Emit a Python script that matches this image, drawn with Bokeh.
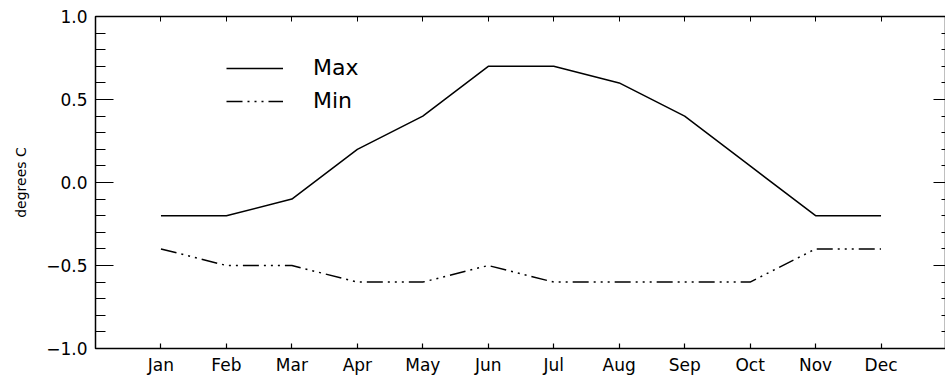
from bokeh.plotting import figure
from bokeh.models import (LinearAxis, FixedTicker, Range1d,
                          Legend, LegendItem, ColumnDataSource)
from bokeh.embed import file_html
from bokeh.resources import INLINE

months = ["Jan", "Feb", "Mar", "Apr", "May", "Jun",
          "Jul", "Aug", "Sep", "Oct", "Nov", "Dec"]
month_pos = list(range(1, 13))
max_vals = [-0.2, -0.2, -0.1, 0.2, 0.4, 0.7, 0.7, 0.6, 0.4, 0.1, -0.2, -0.2]
min_vals = [-0.4, -0.5, -0.5, -0.6, -0.6, -0.5, -0.6, -0.6, -0.6, -0.6, -0.4, -0.4]
y_ticks = [-1.0, -0.5, 0.0, 0.5, 1.0]
y_tick_labels = ["\u22121.0", "\u22120.5", "0.0", "0.5", "1.0"]
y_minor = [round(-1.0 + 0.1 * i, 1) for i in range(21)]

FONT = "DejaVu Sans"

src = ColumnDataSource(dict(x=month_pos, mx=max_vals, mn=min_vals))

p = figure(frame_width=851, frame_height=332, output_backend="svg",
           toolbar_location=None, x_range=Range1d(0, 13), y_range=Range1d(-1, 1),
           min_border_left=95, min_border_top=16, min_border_bottom=29,
           min_border_right=0, y_axis_label="degrees C")
p.background_fill_color = "white"
p.border_fill_color = "white"
p.outline_line_color = "black"
p.outline_line_width = 1.5
p.xgrid.grid_line_color = None
p.ygrid.grid_line_color = None

r1 = p.line("x", "mx", source=src, line_color="black", line_width=1.5)
r2 = p.line("x", "mn", source=src, line_color="black", line_width=1.5,
            line_dash="16 5 2 5 2 5 2 5")

# bottom axis
xa = p.xaxis[0]
xa.ticker = FixedTicker(ticks=month_pos)
xa.major_label_overrides = {i: m for i, m in zip(month_pos, months)}
xa.major_tick_in = 5
xa.major_tick_out = 0
xa.minor_tick_line_color = None
xa.axis_line_color = None
xa.major_tick_line_color = "black"
xa.major_tick_line_width = 1.2
xa.major_label_text_font = FONT
xa.major_label_text_font_size = "17px"
xa.major_label_text_color = "black"
xa.major_label_standoff = 6

# left axis
ya = p.yaxis[0]
ya.ticker = FixedTicker(ticks=y_ticks, minor_ticks=y_minor)
ya.major_label_overrides = {t: l for t, l in zip(y_ticks, y_tick_labels)}
ya.major_tick_in = 18
ya.major_tick_out = 0
ya.minor_tick_in = 10
ya.minor_tick_out = 0
ya.axis_line_color = None
ya.major_tick_line_color = "black"
ya.minor_tick_line_color = "black"
ya.major_tick_line_width = 1.2
ya.minor_tick_line_width = 1.2
ya.major_label_text_font = FONT
ya.major_label_text_font_size = "17px"
ya.major_label_text_color = "black"
ya.major_label_standoff = 8
ya.axis_label_text_font = FONT
ya.axis_label_text_font_size = "14px"
ya.axis_label_text_font_style = "normal"
ya.axis_label_text_color = "black"
ya.axis_label_standoff = 14

# top axis (ticks only)
ta = LinearAxis(ticker=FixedTicker(ticks=month_pos), major_tick_in=5, major_tick_out=0,
                minor_tick_line_color=None, axis_line_color=None,
                major_tick_line_color="black",
                major_label_overrides={i: "" for i in month_pos},
                major_label_standoff=0)
p.add_layout(ta, "above")

# right axis (ticks only)
ra = LinearAxis(ticker=FixedTicker(ticks=y_ticks, minor_ticks=y_minor),
                major_tick_in=13, major_tick_out=0, minor_tick_in=5, minor_tick_out=0,
                axis_line_color=None, major_tick_line_color="black",
                minor_tick_line_color="black",
                major_label_overrides={t: "" for t in y_ticks},
                major_label_standoff=0)
p.add_layout(ra, "right")

legend = Legend(items=[LegendItem(label="Max", renderers=[r1]),
                       LegendItem(label="Min", renderers=[r2])],
                location=(131, 235))
legend.border_line_color = None
legend.background_fill_alpha = 0
legend.glyph_width = 57
legend.glyph_height = 20
legend.label_height = 20
legend.spacing = 8
legend.padding = 0
legend.margin = 0
legend.label_standoff = 30
legend.label_text_font = FONT
legend.label_text_font_size = "22px"
legend.label_text_color = "black"
p.add_layout(legend)

open("out.html", "w").write(file_html(p, INLINE))
